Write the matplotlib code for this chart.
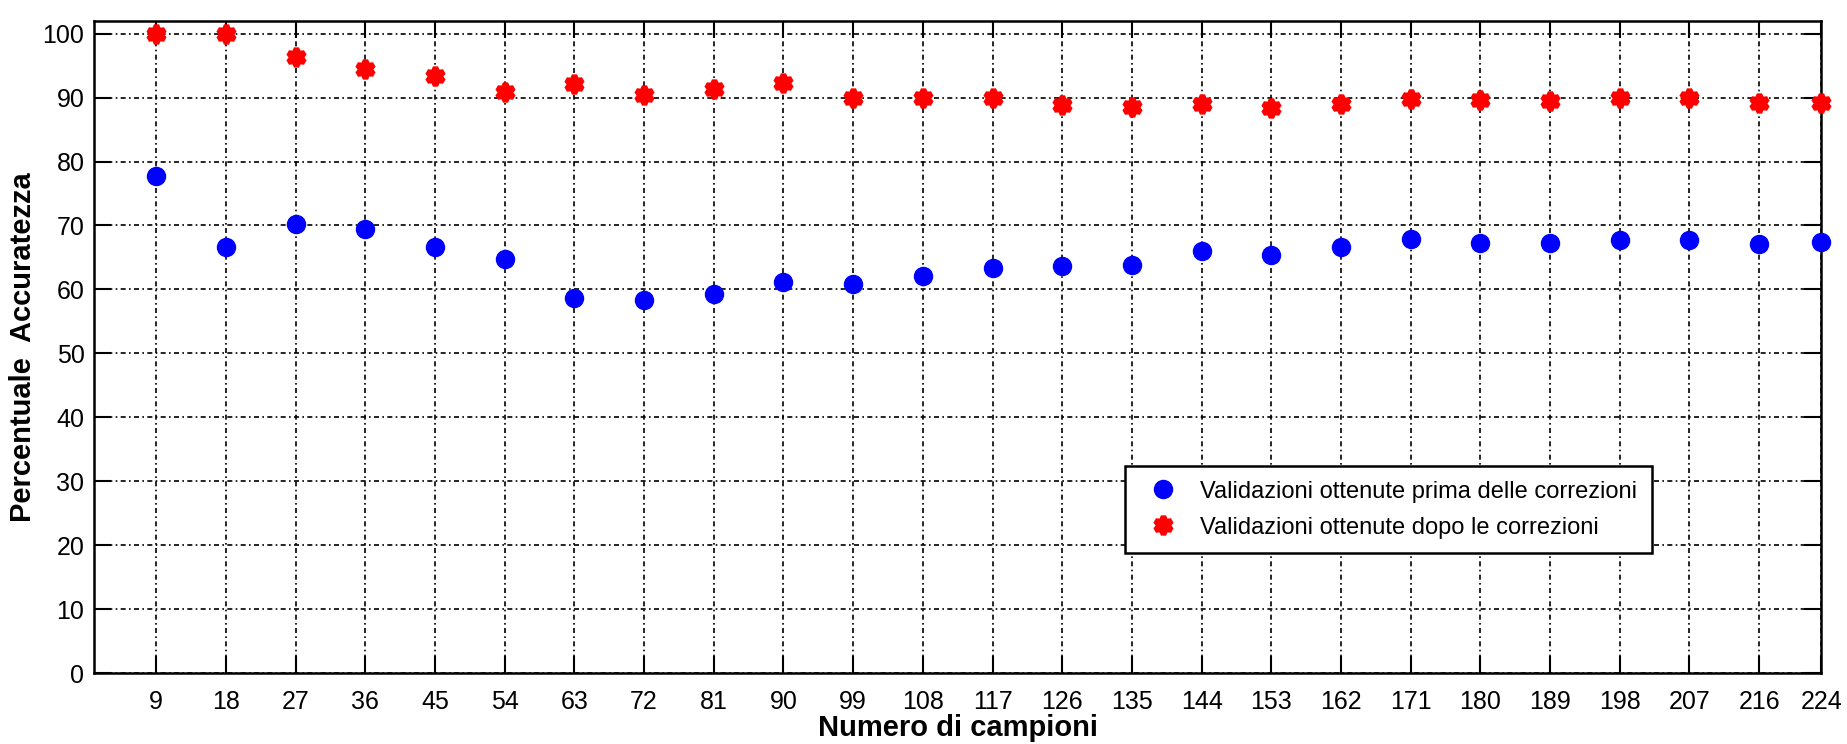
import matplotlib
matplotlib.use('Agg')
import matplotlib.pyplot as plt
import numpy as np

# numero di campioni (x) and accuracy values
campioni = [9, 18, 27, 36, 45, 54, 63, 72, 81, 90, 99, 108, 117, 126, 135,
            144, 153, 162, 171, 180, 189, 198, 207, 216, 224]
prima = [77.8, 66.7, 70.3, 69.5, 66.7, 64.8, 58.7, 58.3, 59.3, 61.2, 60.9, 62.1,
         63.3, 63.6, 63.8, 66.0, 65.4, 66.7, 67.9, 67.2, 67.3, 67.7, 67.7, 67.1, 67.4]
dopo = [100.0, 100.0, 96.3, 94.4, 93.4, 90.8, 92.1, 90.4, 91.4, 92.3, 89.9, 89.9,
        89.9, 88.9, 88.5, 89.0, 88.3, 89.0, 89.7, 89.6, 89.5, 90.0, 90.0, 89.1, 89.2]
yticks = list(range(0, 101, 10))

plt.rcParams['font.family'] = ['Liberation Sans Narrow', 'Liberation Sans', 'DejaVu Sans']

fig = plt.figure(figsize=(18.47, 7.44), dpi=100)
ax = fig.add_axes([0.051, 0.0954, 0.935, 0.8766])

ax.plot(campioni, prima, linestyle='none', marker='o', color='#0000ff',
        markersize=13, label='Validazioni ottenute prima delle correzioni',
        zorder=3, clip_on=False)
ax.plot(campioni, dopo, linestyle='none', marker=(6, 1, 0), color='#ff0000',
        markersize=13, markeredgewidth=4, label='Validazioni ottenute dopo le correzioni',
        zorder=3, clip_on=False)

ax.set_xlim(1, 224)
ax.set_ylim(0, 102)
ax.set_xticks(campioni)
ax.set_yticks(yticks)
ax.tick_params(axis='both', direction='in', length=12, width=1.5,
               top=True, right=True, labelsize=18, pad=7)
ax.tick_params(axis='x', pad=12)

# matlab style dotted grid
ax.grid(True, color='black', linewidth=1.2, linestyle=(0, (3, 2, 1, 2)))
ax.set_axisbelow(True)
for s in ax.spines.values():
    s.set_linewidth(1.8)

ax.set_xlabel('Numero di campioni', fontsize=21, fontweight='bold', labelpad=0)
ax.set_ylabel('Percentuale  Accuratezza', fontsize=21, fontweight='bold', labelpad=4)

leg = ax.legend(loc='upper left', bbox_to_anchor=(0.59, 0.335), fontsize=17,
                frameon=True, fancybox=False, edgecolor='black', framealpha=1,
                borderpad=0.6, handletextpad=0.6, labelspacing=0.6, numpoints=1)
leg.get_frame().set_linewidth(1.8)

fig.savefig('out.png', dpi=100)
